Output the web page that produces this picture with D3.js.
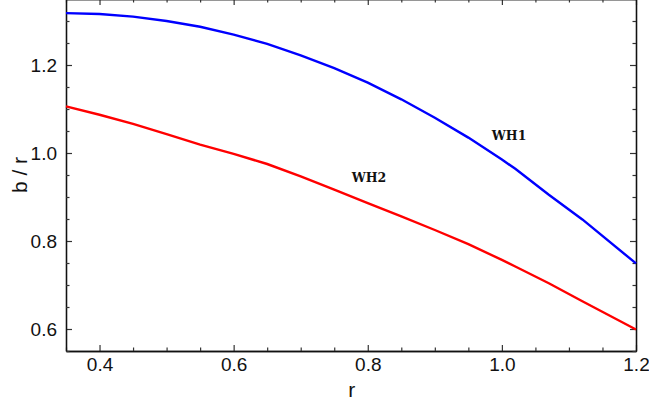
<!DOCTYPE html>
<html>
<head>
<meta charset="utf-8">
<script src="https://cdn.jsdelivr.net/npm/d3@7"></script>
<style>
body { margin: 0; background: #fff; }
.axis path { stroke: #111; stroke-width: 1.3; }
.axis line { stroke: #333; stroke-width: 1.2; }
</style>
</head>
<body>
<div class="graphic"></div>
<script>
var width = 649;
var height = 402;
var margin = {top: -1, right: 13, bottom: 51, left: 66};

// curve samples
var rValues = [0.35, 0.40, 0.45, 0.50, 0.55, 0.60, 0.65, 0.70, 0.75, 0.80, 0.85, 0.90, 0.95, 1.00, 1.02, 1.07, 1.12, 1.20];
var wh1 = [1.318, 1.316, 1.310, 1.300, 1.287, 1.269, 1.248, 1.222, 1.193, 1.160, 1.122, 1.080, 1.035, 0.985, 0.964, 0.905, 0.849, 0.749];
var wh2 = [1.106, 1.087, 1.066, 1.043, 1.019, 0.998, 0.975, 0.947, 0.917, 0.886, 0.856, 0.825, 0.793, 0.757, 0.742, 0.704, 0.663, 0.599];

var xMajor = [0.4, 0.6, 0.8, 1.0, 1.2];
var xMinor = [0.35, 0.45, 0.5, 0.55, 0.65, 0.7, 0.75, 0.85, 0.9, 0.95, 1.05, 1.1, 1.15];
var yMajor = [0.6, 0.8, 1.0, 1.2];
var yMinor = [0.55, 0.65, 0.7, 0.75, 0.85, 0.9, 0.95, 1.05, 1.1, 1.15, 1.25, 1.3, 1.35];

var svg = d3.select("div.graphic").append("svg")
	.attr("width", width)
	.attr("height", height);

var x = d3.scaleLinear().domain([0.35, 1.2]).range([margin.left, width - margin.right]);
var y = d3.scaleLinear().domain([0.55, 1.35]).range([height - margin.bottom, margin.top]);

var fmt = d3.format(".1f");

function styleText(g) {
	g.selectAll("text")
		.attr("font-family", "Liberation Sans, Arial, sans-serif")
		.attr("font-size", 19)
		.attr("fill", "#111");
}

// axes, ticks pointing inward
svg.append("g").attr("class", "axis")
	.attr("transform", "translate(0," + y(0.55) + ")")
	.call(d3.axisBottom(x).tickValues(xMajor).tickFormat(fmt).tickSizeInner(-6).tickSizeOuter(0).tickPadding(7))
	.call(styleText);
svg.append("g").attr("class", "axis")
	.attr("transform", "translate(0," + y(0.55) + ")")
	.call(d3.axisBottom(x).tickValues(xMinor).tickFormat("").tickSizeInner(-3.5).tickSizeOuter(0));
svg.append("g").attr("class", "axis")
	.attr("transform", "translate(0," + y(1.35) + ")")
	.call(d3.axisTop(x).tickValues(xMajor).tickFormat("").tickSizeInner(-6).tickSizeOuter(0));
svg.append("g").attr("class", "axis")
	.attr("transform", "translate(0," + y(1.35) + ")")
	.call(d3.axisTop(x).tickValues(xMinor).tickFormat("").tickSizeInner(-3.5).tickSizeOuter(0));

svg.append("g").attr("class", "axis")
	.attr("transform", "translate(" + x(0.35) + ",0)")
	.call(d3.axisLeft(y).tickValues(yMajor).tickFormat(fmt).tickSizeInner(-6).tickSizeOuter(0).tickPadding(9))
	.call(styleText);
svg.append("g").attr("class", "axis")
	.attr("transform", "translate(" + x(0.35) + ",0)")
	.call(d3.axisLeft(y).tickValues(yMinor).tickFormat("").tickSizeInner(-3.5).tickSizeOuter(0));
svg.append("g").attr("class", "axis")
	.attr("transform", "translate(" + x(1.2) + ",0)")
	.call(d3.axisRight(y).tickValues(yMajor).tickFormat("").tickSizeInner(-6).tickSizeOuter(0));
svg.append("g").attr("class", "axis")
	.attr("transform", "translate(" + x(1.2) + ",0)")
	.call(d3.axisRight(y).tickValues(yMinor).tickFormat("").tickSizeInner(-3.5).tickSizeOuter(0));

// curves
var line = d3.line()
	.x(function(d, i) { return x(rValues[i]); })
	.y(function(d) { return y(d); });

svg.append("path").datum(wh1)
	.attr("d", line)
	.attr("fill", "none")
	.attr("stroke", "#0000ff")
	.attr("stroke-width", 2.4);

svg.append("path").datum(wh2)
	.attr("d", line)
	.attr("fill", "none")
	.attr("stroke", "#ff0000")
	.attr("stroke-width", 2.4);

// curve labels
svg.selectAll("text.label")
	.data([{t: "WH1", r: 0.985, v: 1.029}, {t: "WH2", r: 0.776, v: 0.934}])
	.enter().append("text")
	.attr("class", "label")
	.attr("x", function(d) { return x(d.r); })
	.attr("y", function(d) { return y(d.v); })
	.attr("font-family", "DejaVu Serif, serif")
	.attr("font-weight", "bold")
	.attr("font-size", 12.5)
	.attr("fill", "#111")
	.text(function(d) { return d.t; });

// axis titles
svg.append("text")
	.attr("x", x(0.776)).attr("y", 397)
	.attr("text-anchor", "middle")
	.attr("font-family", "Liberation Sans, Arial, sans-serif")
	.attr("font-size", 21)
	.attr("fill", "#111")
	.text("r");
svg.append("text")
	.attr("transform", "translate(27," + y(0.95) + ") rotate(-90)")
	.attr("text-anchor", "middle")
	.attr("font-family", "Liberation Sans, Arial, sans-serif")
	.attr("font-size", 21)
	.attr("fill", "#111")
	.text("b / r");
</script>
</body>
</html>
